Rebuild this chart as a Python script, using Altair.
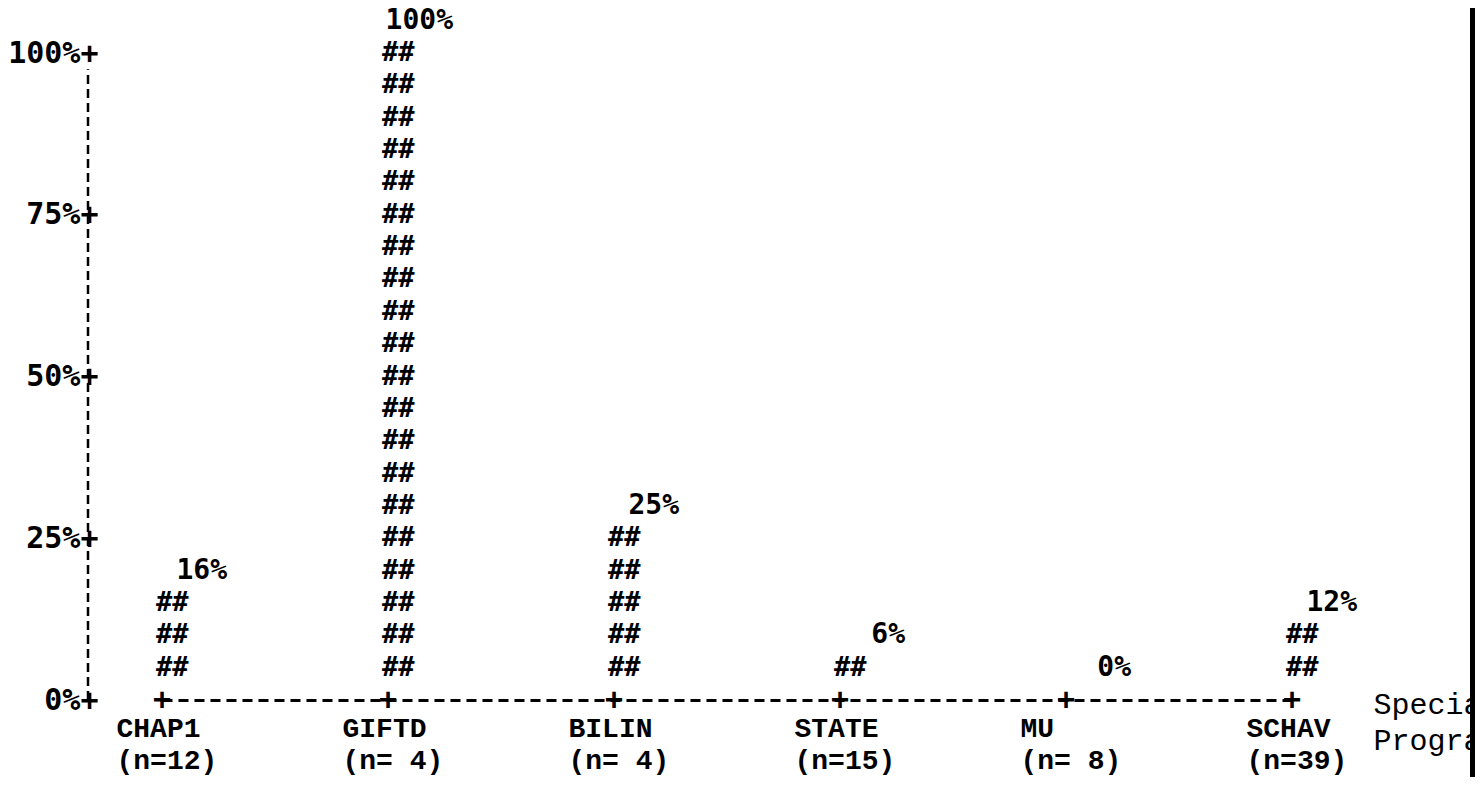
import altair as alt
import pandas as pd

# ---- data ----
programs = ["CHAP1", "GIFTD", "BILIN", "STATE", "MU", "SCHAV"]
n_sizes = [12, 4, 4, 15, 8, 39]
percents = [16, 100, 25, 6, 0, 12]
hash_rows = [3, 20, 5, 1, 0, 2]          # number of "##" rows printed per bar

y_tick_rows = [0, 5, 10, 15, 20]
y_tick_labels = ["0%+", "25%+", "50%+", "75%+", "100%+"]
x_title = ["Special", "Programs"]

# ---- tables ----
cats = [f"{p}|(n={n:>2})" for p, n in zip(programs, n_sizes)]

bar_rows = pd.DataFrame(
    [{"cat": c, "row": r, "glyph": "##"} for c, k in zip(cats, hash_rows) for r in range(1, k + 1)]
)
value_labels = pd.DataFrame(
    [{"cat": c, "row": k + 1, "label": f"{p}%"} for c, k, p in zip(cats, hash_rows, percents)]
)
plus_marks = pd.DataFrame({"cat": cats, "row": [0] * len(cats), "glyph": ["+"] * len(cats)})

label_expr_y = "".join(
    f"datum.value == {v} ? '{t}' : " for v, t in zip(y_tick_rows, y_tick_labels)
) + "''"

x_scale = alt.Scale(type="point", domain=cats, range=[74, 1204], padding=0)
y_scale = alt.Scale(domain=[0, 21.3], nice=False, zero=False)

x_axis = alt.Axis(
    labelExpr="split(datum.value, '|')",
    labelFont="Liberation Mono",
    labelFontWeight="bold",
    labelFontSize=28,
    labelColor="black",
    labelAngle=0,
    labelAlign="left",
    labelOffset=-46,
    labelBaseline="top",
    labelPadding=14,
    labelLineHeight=32,
    ticks=False,
    grid=False,
    domain=True,
    domainColor="black",
    domainWidth=3,
    domainDash=[10, 6],
    title=x_title,
    titleFont="Liberation Mono",
    titleFontWeight="normal",
    titleFontSize=30,
    titleColor="black",
    titleAlign="left",
    titleBaseline="alphabetic",
    titleX=1285,
    titleY=13,
    titleLineHeight=36,
)

y_axis = alt.Axis(
    values=y_tick_rows,
    labelExpr=label_expr_y,
    labelFont="DejaVu Sans Mono",
    labelFontWeight="bold",
    labelFontSize=30,
    labelColor="black",
    labelAlign="right",
    labelBaseline="middle",
    labelPadding=0,
    offset=-10,
    ticks=False,
    grid=False,
    domain=False,
    title=None,
)


def xy():
    return dict(
        x=alt.X("cat:N", scale=x_scale, axis=x_axis, sort=cats),
        y=alt.Y("row:Q", scale=y_scale, axis=y_axis),
    )


bars = alt.Chart(bar_rows).mark_text(
    font="DejaVu Sans Mono", fontWeight="bold", fontSize=27, align="left", baseline="middle", dx=-6, color="black"
).encode(text="glyph:N", **xy())

values = alt.Chart(value_labels).mark_text(
    font="DejaVu Sans Mono", fontWeight="bold", fontSize=28, align="right", baseline="middle", dx=65, color="black"
).encode(text="label:N", **xy())

pluses = alt.Chart(plus_marks).mark_text(
    font="DejaVu Sans Mono", fontWeight="bold", fontSize=30, align="center", baseline="middle", color="black"
).encode(text="glyph:N", **xy())

y_line = alt.Chart(pd.DataFrame({"a": [0]})).mark_rule(
    color="black", strokeWidth=2.5, strokeDash=[9, 5]
).encode(
    x=alt.value(0),
    y=alt.Y(datum=0, scale=y_scale, axis=y_axis),
    y2=alt.Y2(datum=19.5),
)

edge_bar = alt.Chart(pd.DataFrame({"a": [0]})).mark_rule(color="black", strokeWidth=5).encode(
    x=alt.value(1384.5), y=alt.value(-20), y2=alt.value(800)
)

chart = alt.layer(bars, values, pluses, y_line, edge_bar).properties(
    width=1247,
    height=689,
    autosize=alt.AutoSizeParams(type="none"),
    padding={"left": 80, "top": 3, "right": 140, "bottom": 77},
    background="white",
).configure_view(stroke=None)

chart.save("out.html", embed_options={"renderer": "svg", "actions": False})
